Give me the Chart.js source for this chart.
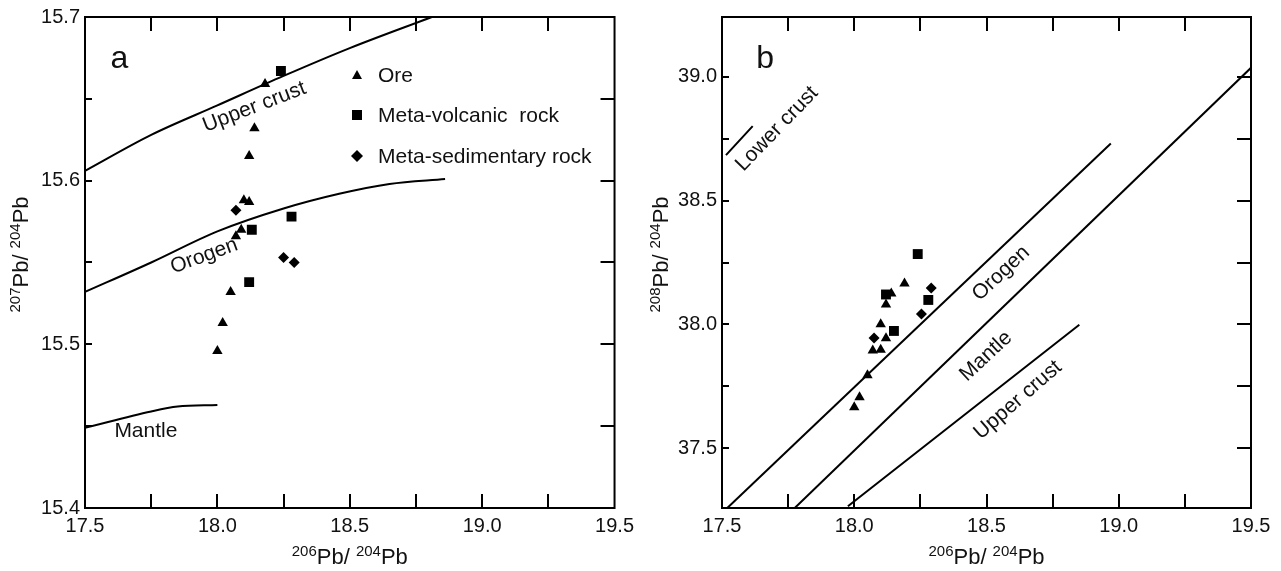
<!DOCTYPE html>
<html>
<head>
<meta charset="utf-8">
<script src="https://cdn.jsdelivr.net/npm/chart.js@4.4.1/dist/chart.umd.min.js"></script>
<style>
body { margin: 0; background: #fff; }
.box { position: absolute; top: 0; height: 571px; }
</style>
</head>
<body>
<div class="box" style="left:0;width:640px"><canvas id="chartA" width="640" height="571"></canvas></div>
<div class="box" style="left:640px;width:641px"><canvas id="chartB" width="641" height="571"></canvas></div>
<script>
// ---- panel a : 207Pb/204Pb vs 206Pb/204Pb ----
var oreA_x = [18.18, 18.14, 18.12, 18.10, 18.12, 18.09, 18.07, 18.05, 18.02, 18.00];
var oreA_y = [15.659, 15.632, 15.615, 15.588, 15.587, 15.570, 15.566, 15.532, 15.513, 15.496];
var volcA_x = [18.24, 18.28, 18.13, 18.12];
var volcA_y = [15.667, 15.578, 15.570, 15.538];
var sedA_x = [18.07, 18.25, 18.29];
var sedA_y = [15.582, 15.553, 15.550];

var upperA_x = [17.5, 17.75, 18.0, 18.25, 18.5, 18.81];
var upperA_y = [15.606, 15.628, 15.646, 15.664, 15.681, 15.700];
var orogenA_x = [17.5, 17.75, 18.0, 18.25, 18.46, 18.65, 18.86];
var orogenA_y = [15.532, 15.550, 15.569, 15.583, 15.592, 15.598, 15.601];
var mantleA_x = [17.5, 17.75, 17.85, 18.0];
var mantleA_y = [15.449, 15.459, 15.462, 15.463];

// ---- panel b : 208Pb/204Pb vs 206Pb/204Pb ----
var oreB_x = [18.00, 18.02, 18.05, 18.07, 18.10, 18.12, 18.10, 18.12, 18.14, 18.19];
var oreB_y = [37.666, 37.707, 37.795, 37.895, 37.898, 37.945, 38.001, 38.081, 38.125, 38.165];
var volcB_x = [18.24, 18.12, 18.28, 18.15];
var volcB_y = [38.284, 38.121, 38.099, 37.974];
var sedB_x = [18.075, 18.254, 18.291];
var sedB_y = [37.946, 38.042, 38.147];

var orogenB_x = [17.52, 18.97];
var orogenB_y = [37.26, 38.73];
var mantleB_x = [17.775, 19.5];
var mantleB_y = [37.26, 39.035];
var upperB_x = [17.976, 18.851];
var upperB_y = [37.267, 37.999];
var lowerB_x = [17.515, 17.616];
var lowerB_y = [38.683, 38.80];

// axis ranges / ticks
var xRange = [17.5, 19.5], xStep = 0.5, xMinor = 0.25;
var yRangeA = [15.4, 15.7], yStepA = 0.1, yMinorA = 0.05;
var yRangeB = [37.26, 39.24], yStepB = 0.5, yMinorB = 0.25;

var FONT = "'Liberation Sans', Arial, sans-serif";
var INK = '#111';

function pts(xs, ys) {
  return xs.map(function (x, i) { return { x: x, y: ys[i] }; });
}
function marks(label, xs, ys, style, r) {
  return { label: label, data: pts(xs, ys), pointStyle: style, pointRadius: r,
           backgroundColor: '#000', borderWidth: 0, showLine: false };
}
function curve(xs, ys) {
  return { data: pts(xs, ys), showLine: true, pointRadius: 0, borderColor: '#000',
           borderWidth: 2, fill: false, tension: 0.4, cubicInterpolationMode: 'monotone' };
}

// text with superscripts, parts = [[text, isSup], ...]
function supText(ctx, parts, cx, cy, rot) {
  var big = '22px ' + FONT, small = '15px ' + FONT;
  var w = 0;
  parts.forEach(function (p) { ctx.font = p[1] ? small : big; w += ctx.measureText(p[0]).width; });
  ctx.save();
  ctx.translate(cx, cy);
  ctx.rotate(rot || 0);
  ctx.fillStyle = INK;
  ctx.textBaseline = 'alphabetic';
  ctx.textAlign = 'left';
  var x = -w / 2;
  parts.forEach(function (p) {
    ctx.font = p[1] ? small : big;
    ctx.fillText(p[0], x, p[1] ? 0 : 8);
    x += ctx.measureText(p[0]).width;
  });
  ctx.restore();
}

function marker(ctx, style, x, y, s) {
  ctx.beginPath();
  if (style === 'triangle') {
    ctx.moveTo(x, y - s); ctx.lineTo(x + s, y + s * 0.8); ctx.lineTo(x - s, y + s * 0.8);
  } else if (style === 'rect') {
    ctx.rect(x - s, y - s, 2 * s, 2 * s);
  } else {
    ctx.moveTo(x, y - s * 1.2); ctx.lineTo(x + s * 1.2, y); ctx.lineTo(x, y + s * 1.2); ctx.lineTo(x - s * 1.2, y);
  }
  ctx.closePath();
  ctx.fill();
}

function decoPlugin(opt) {
  return {
    id: 'deco',
    afterDraw: function (chart) {
      var ctx = chart.ctx, a = chart.chartArea, sx = chart.scales.x, sy = chart.scales.y;
      ctx.save();
      ctx.strokeStyle = '#000';
      ctx.lineWidth = 2;
      ctx.strokeRect(a.left, a.top, a.right - a.left, a.bottom - a.top);
      // inward ticks
      ctx.beginPath();
      var v, p;
      for (v = sx.min + xMinor; v < sx.max - 1e-6; v += xMinor) {
        p = Math.round(sx.getPixelForValue(v));
        ctx.moveTo(p, a.top); ctx.lineTo(p, a.top + 14);
        ctx.moveTo(p, a.bottom); ctx.lineTo(p, a.bottom - 14);
      }
      var y0 = Math.ceil((sy.min + 1e-6) / opt.yMinor) * opt.yMinor;
      for (v = y0; v < sy.max - 1e-6; v += opt.yMinor) {
        p = Math.round(sy.getPixelForValue(v));
        ctx.moveTo(a.right, p); ctx.lineTo(a.right - 14, p);
        ctx.moveTo(a.left, p); ctx.lineTo(a.left + 7, p);
      }
      ctx.stroke();

      // labels on the curves
      ctx.fillStyle = INK;
      ctx.textAlign = 'center';
      ctx.textBaseline = 'middle';
      opt.notes.forEach(function (n) {
        ctx.save();
        ctx.translate(sx.getPixelForValue(n.x), sy.getPixelForValue(n.y));
        ctx.rotate(n.rot * Math.PI / 180);
        ctx.font = (n.size || 21) + 'px ' + FONT;
        ctx.fillText(n.text, 0, 0);
        ctx.restore();
      });

      // legend
      (opt.legend || []).forEach(function (l) {
        ctx.fillStyle = '#000';
        marker(ctx, l.style, l.px, l.py, 5);
        ctx.fillStyle = INK;
        ctx.textAlign = 'left';
        ctx.font = '21px ' + FONT;
        ctx.fillText(l.text, l.px + 21, l.py + 1);
      });

      // axis titles
      var cx = (a.left + a.right) / 2, cy = (a.top + a.bottom) / 2;
      supText(ctx, [['206', true], ['Pb/ ', false], ['204', true], ['Pb', false]], cx, 556, 0);
      supText(ctx, [[opt.yIso, true], ['Pb/ ', false], ['204', true], ['Pb', false]], opt.yTitleX, cy - 8, -Math.PI / 2);
      ctx.restore();
    }
  };
}

function makeChart(id, datasets, yRange, yStep, yW, pad, opt) {
  return new Chart(document.getElementById(id), {
    type: 'scatter',
    data: { datasets: datasets },
    options: {
      responsive: false,
      animation: false,
      layout: { padding: pad },
      plugins: { legend: { display: false }, tooltip: { enabled: false } },
      scales: {
        x: {
          min: xRange[0], max: xRange[1],
          grid: { display: false, drawTicks: false },
          border: { display: false },
          ticks: { stepSize: xStep, padding: 6, color: INK, font: { family: FONT, size: 20 },
                   callback: function (v) { return Number(v).toFixed(1); } },
          afterFit: function (s) { s.height = 63; }
        },
        y: {
          min: yRange[0], max: yRange[1],
          grid: { display: false, drawTicks: false },
          border: { display: false },
          ticks: { stepSize: yStep, includeBounds: false, padding: 5, color: INK,
                   font: { family: FONT, size: 20 },
                   callback: function (v) { return Number(v).toFixed(1); } },
          afterFit: function (s) { s.width = yW; }
        }
      }
    },
    plugins: [decoPlugin(opt)]
  });
}

makeChart('chartA', [
  marks('Ore', oreA_x, oreA_y, 'triangle', 6),
  marks('Meta-volcanic rock', volcA_x, volcA_y, 'rect', 7),
  marks('Meta-sedimentary rock', sedA_x, sedA_y, 'rectRot', 5.5),
  curve(upperA_x, upperA_y),
  curve(orogenA_x, orogenA_y),
  curve(mantleA_x, mantleA_y)
], yRangeA, yStepA, 85, { left: 0, top: 15, right: 22, bottom: 0 }, {
  yMinor: yMinorA, yIso: '207', yTitleX: 20,
  notes: [
    { text: 'a', x: 17.63, y: 15.674, rot: 0, size: 32 },
    { text: 'Upper crust', x: 18.14, y: 15.645, rot: -21 },
    { text: 'Orogen', x: 17.95, y: 15.554, rot: -20 },
    { text: 'Mantle', x: 17.73, y: 15.447, rot: 0 }
  ],
  legend: [
    { text: 'Ore', style: 'triangle', px: 357, py: 75 },
    { text: 'Meta-volcanic  rock', style: 'rect', px: 357, py: 115 },
    { text: 'Meta-sedimentary rock', style: 'rectRot', px: 357, py: 156 }
  ]
});

makeChart('chartB', [
  marks('Ore', oreB_x, oreB_y, 'triangle', 6),
  marks('Meta-volcanic rock', volcB_x, volcB_y, 'rect', 7),
  marks('Meta-sedimentary rock', sedB_x, sedB_y, 'rectRot', 5.5),
  curve(orogenB_x, orogenB_y),
  curve(mantleB_x, mantleB_y),
  curve(upperB_x, upperB_y),
  curve(lowerB_x, lowerB_y)
], yRangeB, yStepB, 82, { left: 0, top: 16, right: 30, bottom: 0 }, {
  yMinor: yMinorB, yIso: '208', yTitleX: 20,
  notes: [
    { text: 'b', x: 17.663, y: 39.071, rot: 0, size: 32 },
    { text: 'Lower crust', x: 17.708, y: 38.789, rot: -46 },
    { text: 'Orogen', x: 18.555, y: 38.206, rot: -43 },
    { text: 'Mantle', x: 18.498, y: 37.872, rot: -43 },
    { text: 'Upper crust', x: 18.619, y: 37.695, rot: -41 }
  ]
});
</script>
</body>
</html>
